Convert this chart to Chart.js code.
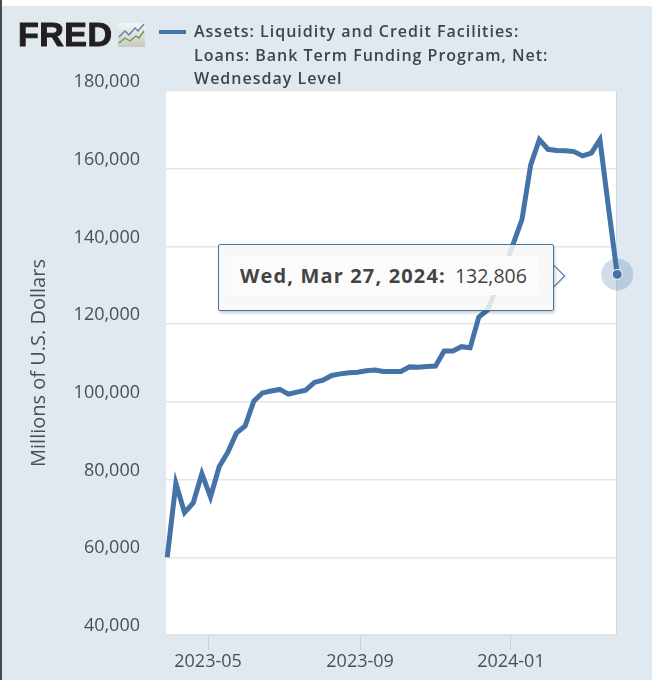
<!DOCTYPE html>
<html>
<head>
<meta charset="utf-8">
<script src="https://cdn.jsdelivr.net/npm/chart.js@4"></script>
<style>
html, body { margin: 0; padding: 0; background: #e1e9f0; }
#page { position: relative; width: 652px; height: 680px; overflow: hidden; font-family: "Open Sans", sans-serif; }
#topband { position: absolute; left: 0; top: 0; width: 652px; height: 6px; background: #fff; }
#leftband { position: absolute; left: 0; top: 0; width: 2px; height: 680px; background: #4a4a4a; }
#chart { position: absolute; left: 0; top: 0; }
#logo { position: absolute; left: 18px; top: 15px; font: 900 34px "Liberation Sans", sans-serif; color: #231f20; letter-spacing: 0.5px; -webkit-text-stroke: 1px #231f20; }
#logoIcon { position: absolute; left: 118px; top: 23px; }
#legendLine { position: absolute; left: 159px; top: 30px; width: 27px; height: 4px; background: #4572a7; }
#legendText { position: absolute; left: 194px; top: 20px; width: 370px; font-size: 16px; line-height: 23.5px; font-weight: 600; letter-spacing: 1px; color: #3f444a; }
#tip { position: absolute; left: 218px; top: 244px; width: 334px; height: 65px; background: rgba(247,247,247,0.85); border: 1.5px solid #4572a7; border-radius: 2px; box-shadow: 1px 2px 3px rgba(0,0,0,0.2); }
#tipCaret { position: absolute; left: 546px; top: 268px; width: 15px; height: 15px; background: #f7f7f7; border-top: 1.5px solid #4572a7; border-right: 1.5px solid #4572a7; transform: rotate(45deg); box-shadow: 1px 0 2px rgba(0,0,0,0.15); }
#tipInner { position: absolute; left: 231px; top: 256px; width: 307px; height: 39px; background: #fbfbfb; }
#tipText { position: absolute; left: 240px; top: 262px; white-space: nowrap; font-size: 19.5px; line-height: 27px; color: #444; }
#tipText b { font-size: 20px; letter-spacing: 1.15px; font-weight: 700; margin-right: 4px; }
</style>
</head>
<body>
<div id="page">
  <canvas id="chart" width="652" height="680"></canvas>
  <div id="topband"></div>
  <div id="leftband"></div>
  <div id="logo">FRED</div>
  <svg id="logoIcon" width="27" height="25">
    <defs><linearGradient id="g" x1="0" y1="0" x2="0" y2="1"><stop offset="0" stop-color="#f4f4f4"/><stop offset="1" stop-color="#c9c9c2"/></linearGradient></defs>
    <rect width="27" height="24" fill="url(#g)"/>
    <polyline points="1,14 7,8 11,12 17,5 20,8 26,1" fill="none" stroke="#5f82ad" stroke-width="1.4"/>
    <polyline points="1,20 7,15 12,18 18,13 21,15 26,8" fill="none" stroke="#6f9a4c" stroke-width="1.4"/>
  </svg>
  <div id="legendLine"></div>
  <div id="legendText"></div>
  <div id="tipCaret"></div>
  <div id="tip"></div>
  <div id="tipInner"></div>
  <div id="tipText"></div>
</div>
<script>
// Datos
const seriesName = 'Assets: Liquidity and Credit Facilities: Loans: Bank Term Funding Program, Net: Wednesday Level';
const yAxisTitle = 'Millions of U.S. Dollars';
const tooltipDate = 'Wed, Mar 27, 2024:';

const dates = [
  '2023-03-29','2023-04-05','2023-04-12','2023-04-19','2023-04-26','2023-05-03','2023-05-10','2023-05-17','2023-05-24','2023-05-31',
  '2023-06-07','2023-06-14','2023-06-21','2023-06-28','2023-07-05','2023-07-12','2023-07-19','2023-07-26','2023-08-02','2023-08-09',
  '2023-08-16','2023-08-23','2023-08-30','2023-09-06','2023-09-13','2023-09-20','2023-09-27','2023-10-04','2023-10-11','2023-10-18',
  '2023-10-25','2023-11-01','2023-11-08','2023-11-15','2023-11-22','2023-11-29','2023-12-06','2023-12-13','2023-12-20','2023-12-27',
  '2024-01-03','2024-01-10','2024-01-17','2024-01-24','2024-01-31','2024-02-07','2024-02-14','2024-02-21','2024-02-28','2024-03-06',
  '2024-03-13','2024-03-20','2024-03-27'
];
const values = [
  60000, 79000, 71500, 74000, 81500, 75500, 83300, 87000, 92000, 93800,
  100200, 102300, 102800, 103200, 102000, 102500, 103000, 105000, 105600, 106800,
  107200, 107500, 107600, 108000, 108200, 107800, 107800, 107800, 109000, 108900,
  109100, 109200, 113100, 113100, 114200, 113900, 121800, 123600, 129000, 134500,
  140800, 147000, 161000, 167500, 165000, 164700, 164600, 164400, 163300, 164000,
  167500, 149800, 132806
];
const xTickDates = ['2023-05-01', '2023-09-01', '2024-01-01'];
const xTickLabels = ['2023-05', '2023-09', '2024-01'];
const yTicks = [40000, 60000, 80000, 100000, 120000, 140000, 160000, 180000];

const lineColor = '#4572a7';
const tickFont = { family: 'Open Sans', size: 18 };
const titleFont = { family: 'Open Sans', size: 20 };
const tickColor = '#4a4f55';
const oneDay = 86400000;

const xTickValues = xTickDates.map(d => Date.parse(d));
const points = dates.map((d, i) => ({ x: Date.parse(d), y: values[i] }));

// Fondo blanco del area del grafico
const plotBackground = {
  id: 'plotBackground',
  beforeDraw(chart) {
    const { ctx, chartArea: a } = chart;
    ctx.save();
    ctx.fillStyle = '#fff';
    ctx.fillRect(a.left, a.top, a.right - a.left, a.bottom - a.top);
    ctx.fillStyle = '#d3d9e0';
    ctx.fillRect(a.right, a.top, 1, a.bottom - a.top);
    ctx.fillRect(a.left, a.bottom, a.right - a.left, 1);
    ctx.restore();
  }
};

// Marcador del ultimo punto con halo
const lastPoint = {
  id: 'lastPoint',
  afterDatasetsDraw(chart) {
    const pts = chart.getDatasetMeta(0).data;
    const p = pts[pts.length - 1];
    const ctx = chart.ctx;
    ctx.save();
    ctx.fillStyle = 'rgba(69,114,167,0.25)';
    ctx.beginPath();
    ctx.arc(p.x, p.y, 16, 0, Math.PI * 2);
    ctx.fill();
    ctx.fillStyle = lineColor;
    ctx.strokeStyle = '#fff';
    ctx.lineWidth = 1;
    ctx.beginPath();
    ctx.arc(p.x, p.y, 5, 0, Math.PI * 2);
    ctx.fill();
    ctx.stroke();
    ctx.restore();
  }
};

new Chart(document.getElementById('chart').getContext('2d'), {
  type: 'line',
  data: {
    datasets: [{
      label: seriesName,
      data: points,
      borderColor: lineColor,
      borderWidth: 5,
      borderJoinStyle: 'miter',
      pointRadius: 0,
      tension: 0,
      clip: false
    }]
  },
  options: {
    responsive: false,
    animation: false,
    events: [],
    layout: { padding: { top: 91, right: 36, left: 0, bottom: 0 } },
    plugins: { legend: { display: false }, tooltip: { enabled: false }, title: { display: false } },
    scales: {
      x: {
        type: 'linear',
        min: points[0].x - oneDay,
        max: points[points.length - 1].x - oneDay,
        afterBuildTicks(axis) { axis.ticks = xTickValues.map(v => ({ value: v })); },
        afterFit(axis) { axis.height = 45; },
        border: { display: false },
        grid: { drawOnChartArea: false, drawTicks: true, tickLength: 15, tickColor: '#c8d2dc', lineWidth: 1 },
        ticks: {
          autoSkip: false, maxRotation: 0, padding: 1,
          font: tickFont, color: tickColor,
          callback: (v) => xTickLabels[xTickValues.indexOf(v)]
        }
      },
      y: {
        min: 40000,
        max: 180000,
        afterBuildTicks(axis) { axis.ticks = yTicks.map(v => ({ value: v })); },
        afterFit(axis) { axis.width = 166; },
        border: { display: false },
        grid: { color: '#e6e6e6', lineWidth: 1.5, drawTicks: false },
        title: { display: true, text: yAxisTitle, font: titleFont, color: tickColor, padding: { top: 27, bottom: 0 } },
        ticks: {
          padding: 26, labelOffset: -9,
          font: tickFont, color: tickColor,
          callback: (v) => v.toLocaleString('en-US')
        }
      }
    }
  },
  plugins: [plotBackground, lastPoint]
});

document.getElementById('legendText').textContent = seriesName;
const tipBold = document.createElement('b');
tipBold.textContent = tooltipDate;
const tipText = document.getElementById('tipText');
tipText.appendChild(tipBold);
tipText.appendChild(document.createTextNode(' ' + values[values.length - 1].toLocaleString('en-US')));
</script>
</body>
</html>
